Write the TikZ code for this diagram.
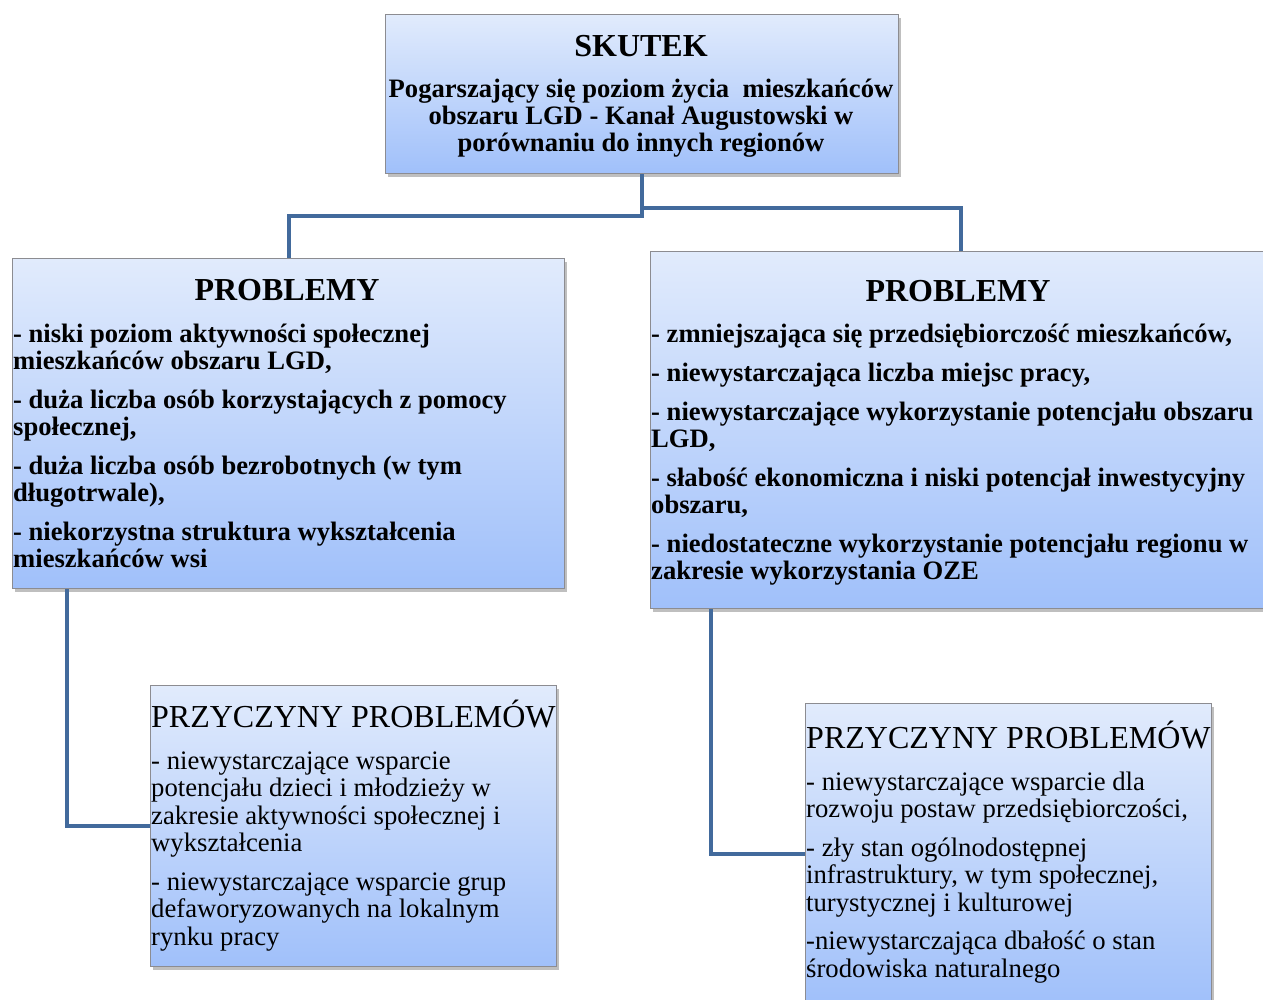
\documentclass[tikz,border=0pt]{standalone}
\usepackage{fontspec}
\setmainfont{Liberation Serif}
\usetikzlibrary{shadows}

\definecolor{boxtop}{RGB}{225,235,252}
\definecolor{boxbot}{RGB}{160,192,250}
\definecolor{boxrim}{RGB}{140,140,145}
\definecolor{linkblue}{RGB}{66,106,156}

\newcommand{\headfont}{\fontsize{32}{36}\selectfont}

\begin{document}
\begin{tikzpicture}[x=1pt,y=-1pt,
    box/.style={draw=boxrim, line width=1pt, top color=boxtop, bottom color=boxbot,
        anchor=north west, inner sep=0pt,
        drop shadow={shadow xshift=2pt, shadow yshift=-3pt, fill=black, opacity=0.25}},
    txt/.style={anchor=base west, inner sep=0pt, align=left},
    boldtxt/.style={txt, font=\bfseries\fontsize{26.6}{27}\selectfont},
    plaintxt/.style={txt, font=\fontsize{26.7}{27.5}\selectfont},
    link/.style={draw=linkblue, line width=4pt}]

    % frame of the page
    \useasboundingbox (0,0) rectangle (1263,999);

    % Boxes
    \node[box, minimum width=513pt, minimum height=159pt] (skutek) at (385,14) {};
    \node[box, minimum width=552pt, minimum height=330pt] (probL) at (12,258) {};
    \node[box, minimum width=620pt, minimum height=357pt] (probR) at (650,251) {};
    \node[box, minimum width=406pt, minimum height=281pt] (przL) at (150,685) {};
    \node[box, minimum width=406pt, minimum height=300pt] (przR) at (805,703) {};

    % Top box (texts placed by the baseline of their last line)
    \node[anchor=base, inner sep=0pt, font=\bfseries\headfont] (skutekHead) at (641,56) {SKUTEK};
    \node[boldtxt, anchor=base, align=center] (skutekTxt) at (641,151)
        {Pogarszający się poziom życia\ \ mieszkańców\\
         obszaru LGD - Kanał Augustowski w\\
         porównaniu do innych regionów};

    % Problems, left
    \node[anchor=base, inner sep=0pt, font=\bfseries\headfont] (probLHead) at (287,300) {PROBLEMY};
    \node[boldtxt] (probLTxt) at (13,567)
        {- niski poziom aktywności społecznej\\
         mieszkańców obszaru LGD,\\[12pt]
         - duża liczba osób korzystających z pomocy\\
         społecznej,\\[12pt]
         - duża liczba osób bezrobotnych (w tym\\
         długotrwale),\\[12pt]
         - niekorzystna struktura wykształcenia\\
         mieszkańców wsi};

    % Problems, right
    \node[anchor=base, inner sep=0pt, font=\bfseries\headfont] (probRHead) at (958,301) {PROBLEMY};
    \node[boldtxt] (probRTxt) at (651,579)
        {- zmniejszająca się przedsiębiorczość mieszkańców,\\[12pt]
         - niewystarczająca liczba miejsc pracy,\\[12pt]
         - niewystarczające wykorzystanie potencjału obszaru\\
         LGD,\\[12pt]
         - słabość ekonomiczna i niski potencjał inwestycyjny\\
         obszaru,\\[12pt]
         - niedostateczne wykorzystanie potencjału regionu w\\
         zakresie wykorzystania OZE};

    % Causes, left
    \node[txt, font=\headfont] (przLHead) at (151,727) {PRZYCZYNY PROBLEMÓW};
    \node[plaintxt] (przLTxt) at (151,945)
        {- niewystarczające wsparcie\\
         potencjału dzieci i młodzieży w\\
         zakresie aktywności społecznej i\\
         wykształcenia\\[11pt]
         - niewystarczające wsparcie grup\\
         defaworyzowanych na lokalnym\\
         rynku pracy};

    % Causes, right
    \node[txt, font=\headfont] (przRHead) at (806,748) {PRZYCZYNY PROBLEMÓW};
    \node[plaintxt] (przRTxt) at (806,977)
        {- niewystarczające wsparcie dla\\
         rozwoju postaw przedsiębiorczości,\\[11pt]
         - zły stan ogólnodostępnej\\
         infrastruktury, w tym społecznej,\\
         turystycznej i kulturowej\\[11pt]
         -niewystarczająca dbałość o stan\\
         środowiska naturalnego};

    % Connectors
    \draw[link] (skutek.south) -- ++(0,42) -| (probL.north);
    \draw[link] ([yshift=-34pt]skutek.south) -| (probR.north);
    \draw[link] ([xshift=55pt]probL.south west) |- (przL.west);
    \draw[link] ([xshift=61pt]probR.south west) |- (przR.west);

\end{tikzpicture}
\end{document}
